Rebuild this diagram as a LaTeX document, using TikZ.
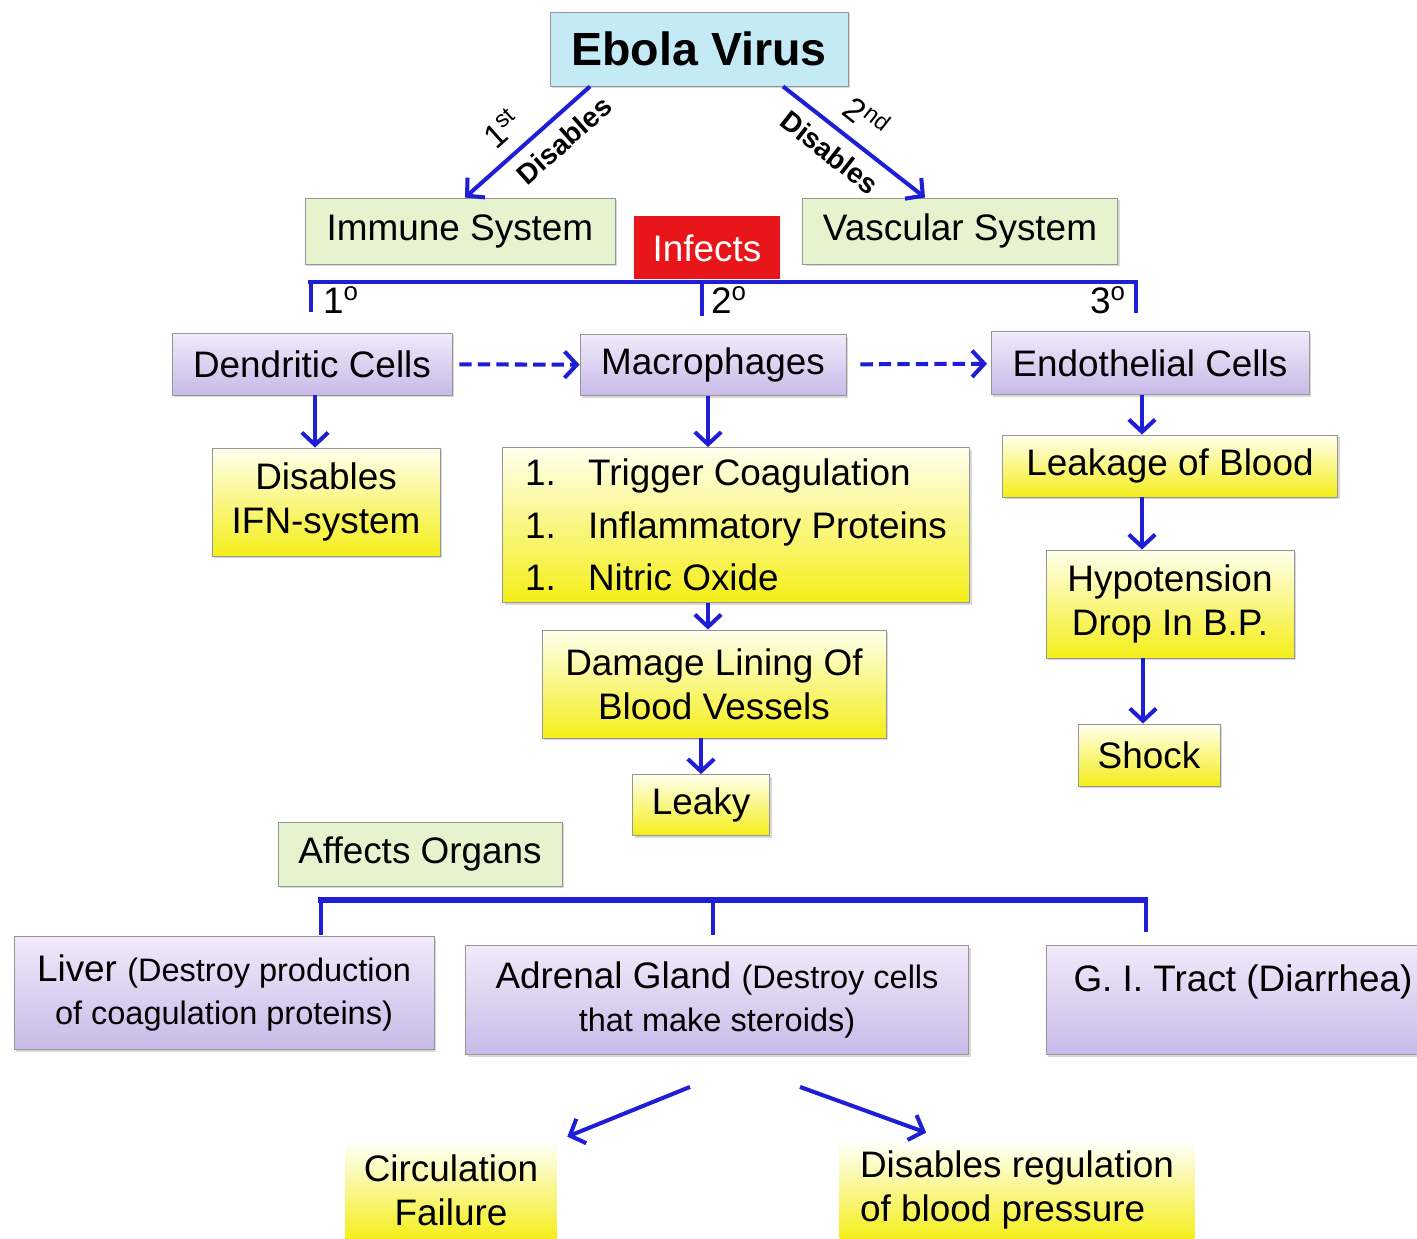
\documentclass[tikz,border=0pt]{standalone}
\usepackage{fontspec}
\setmainfont{Liberation Sans}
\usetikzlibrary{arrows.meta,positioning,shadows,calc}

\definecolor{virusblue}{RGB}{196,234,246}
\definecolor{sysgreen}{RGB}{229,243,207}
\definecolor{infectred}{RGB}{232,22,26}
\definecolor{lavtop}{RGB}{240,234,250}
\definecolor{lavbot}{RGB}{200,186,232}
\definecolor{yeltop}{RGB}{255,255,238}
\definecolor{yelbot}{RGB}{244,238,24}
\definecolor{boxgray}{RGB}{150,150,150}
\definecolor{arrowblue}{RGB}{30,30,215}

\newcommand{\smalltext}{\fontsize{18.5}{25}\selectfont}

\begin{document}
\begin{tikzpicture}[x=0.02cm, y=-0.02cm, font=\fontsize{21}{25}\selectfont]
    \tikzset{box/.style={rectangle, draw=boxgray, line width=0.5pt, align=center, inner sep=3pt, drop shadow={shadow xshift=1.2pt, shadow yshift=-1.2pt, opacity=0.3}},
        cellbox/.style={box, top color=lavtop, bottom color=lavbot},
        effectbox/.style={box, top color=yeltop, bottom color=yelbot},
        systembox/.style={box, fill=sysgreen},
        glowbox/.style={rectangle, top color=white, bottom color=yelbot, align=center},
        arr/.style={-{Straight Barb[length=7pt,width=15pt]}, draw=arrowblue, line width=2.3pt},
        dasharr/.style={arr, dash pattern=on 7pt off 3.5pt},
        barline/.style={draw=arrowblue, line width=2.8pt},
        bartick/.style={draw=arrowblue, line width=2pt},
        tagstyle/.style={font=\fontsize{19}{22}\selectfont, inner sep=1pt},
        verbstyle/.style={font=\fontsize{16}{19}\selectfont\bfseries, inner sep=1pt}}
    \path[use as bounding box, fill=white] (0,0) rectangle (1417,1239);
    \clip (0,0) rectangle (1417,1239);

    \node[box, fill=virusblue, minimum width=5.96cm, minimum height=1.48cm, font=\fontsize{26.5}{30}\selectfont\bfseries] (ebola) at (699,49) {Ebola Virus};
    \node[systembox, minimum width=6.2cm, minimum height=1.32cm] (immune) at (460,231) {Immune System};
    \node[systembox, minimum width=6.3cm, minimum height=1.32cm] (vascular) at (960,231) {Vascular System};
    \node[rectangle, fill=infectred, text=white, minimum width=2.92cm, minimum height=1.26cm] (infects) at (707,248) {Infects};

    \node[cellbox, minimum width=5.6cm, minimum height=1.24cm] (dendritic) at (312,364) {Dendritic Cells};
    \node[cellbox, minimum width=5.32cm, minimum height=1.22cm] (macrophages) at (713,365) {Macrophages};
    \node[cellbox, minimum width=6.36cm, minimum height=1.26cm] (endothelial) at (1150,363) {Endothelial Cells};

    \node[effectbox, minimum width=4.56cm, minimum height=2.16cm] (ifn) at (326,502) {Disables\\IFN-system};
    \node[effectbox, minimum width=9.34cm, minimum height=3.1cm, align=left, font=\fontsize{21}{30}\selectfont] (mediators) at (736,525)
        {\makebox[1.26cm][l]{1.}Trigger Coagulation\\\makebox[1.26cm][l]{1.}Inflammatory Proteins\\\makebox[1.26cm][l]{1.}Nitric Oxide};
    \node[effectbox, minimum width=6.88cm, minimum height=2.16cm] (damage) at (714,684) {Damage Lining Of\\Blood Vessels};
    \node[effectbox, minimum width=2.74cm, minimum height=1.22cm] (leaky) at (701,805) {Leaky};
    \node[effectbox, minimum width=6.7cm, minimum height=1.24cm] (leakage) at (1170,466) {Leakage of Blood};
    \node[effectbox, minimum width=4.96cm, minimum height=2.16cm] (hypotension) at (1170,604) {Hypotension\\Drop In B.P.};
    \node[effectbox, minimum width=2.84cm, minimum height=1.24cm] (shock) at (1149,755) {Shock};

    \node[systembox, minimum width=5.68cm, minimum height=1.28cm] (organs) at (420,854) {Affects Organs};
    \node[cellbox, minimum width=8.4cm, minimum height=2.26cm] (liver) at (224,993) {Liver {\smalltext(Destroy production}\\{\smalltext of coagulation proteins)}};
    \node[cellbox, minimum width=10.06cm, minimum height=2.18cm] (adrenal) at (717,1000) {Adrenal Gland {\smalltext(Destroy cells}\\{\smalltext that make steroids)}};
    \node[cellbox, minimum width=7.88cm, minimum height=2.18cm] (gitract) at (1243,1000) {G. I. Tract (Diarrhea)\\\mbox{}};
    \node[glowbox, minimum width=4.24cm, minimum height=2cm] (circulation) at (451,1190) {Circulation\\Failure};
    \node[glowbox, minimum width=7.1cm, minimum height=2cm, align=left] (regulation) at (1017,1190) {Disables regulation\\of blood pressure};

    % virus disables both systems
    \draw[arr] ([xshift=-2.18cm]ebola.south) -- node[sloped, pos=0.56, above=6pt, tagstyle] (first) {1\textsuperscript{st}}
        node[sloped, pos=0.33, below=5pt, verbstyle] (disimmune) {Disables} ([xshift=0.1cm]immune.north);
    \draw[arr] ([xshift=1.68cm]ebola.south) -- node[sloped, pos=0.47, above=6pt, tagstyle] (second) {2\textsuperscript{nd}}
        node[sloped, pos=0.43, below=5pt, verbstyle] (disvascular) {Disables} ([xshift=-0.7cm]vascular.north);

    % infects bracket
    \draw[barline] (308,282) -- (1138,282);
    \draw[bartick] (311,282) -- (311,312);
    \draw[bartick] (702,282) -- (702,316);
    \draw[bartick] (1136,282) -- (1136,313);
    \node (primary) at (341,300) {1\textsuperscript{o}};
    \node (secondary) at (729,300) {2\textsuperscript{o}};
    \node (tertiary) at (1108,300) {3\textsuperscript{o}};

    \draw[dasharr, shorten <=4pt] (dendritic) -- (macrophages);
    \draw[dasharr, shorten <=8pt, shorten >=2pt] (macrophages) -- (endothelial);

    \draw[arr] ([xshift=0.06cm]dendritic.south) -- ([xshift=0.06cm]dendritic.south |- ifn.north);
    \draw[arr] ([xshift=-0.1cm]macrophages.south) -- ([xshift=-0.1cm]macrophages.south |- mediators.north);
    \draw[arr] ([xshift=-0.1cm]macrophages.south |- mediators.south) -- ([xshift=-0.1cm]macrophages.south |- damage.north);
    \draw[arr] (leaky.north |- damage.south) -- (leaky.north);
    \draw[arr] ([xshift=-0.14cm]shock.north |- endothelial.south) -- ([xshift=-0.14cm]shock.north |- leakage.north);
    \draw[arr] ([xshift=-0.14cm]shock.north |- leakage.south) -- ([xshift=-0.14cm]shock.north |- hypotension.north);
    \draw[arr] ([xshift=-0.12cm]shock.north |- hypotension.south) -- ([xshift=-0.12cm]shock.north);

    % organs bracket
    \draw[barline, line width=3.2pt] (318,900) -- (1148,900);
    \draw[bartick] (321,900) -- (321,935);
    \draw[bartick] (713,900) -- (713,935);
    \draw[bartick] (1146,900) -- (1146,932);

    \draw[arr] ([shift={(-27,32)}]adrenal.south) -- ([shift={(10,-3)}]circulation.north east);
    \draw[arr] ([shift={(83,32)}]adrenal.south) -- ([shift={(87,-7)}]regulation.north west);
\end{tikzpicture}
\end{document}
